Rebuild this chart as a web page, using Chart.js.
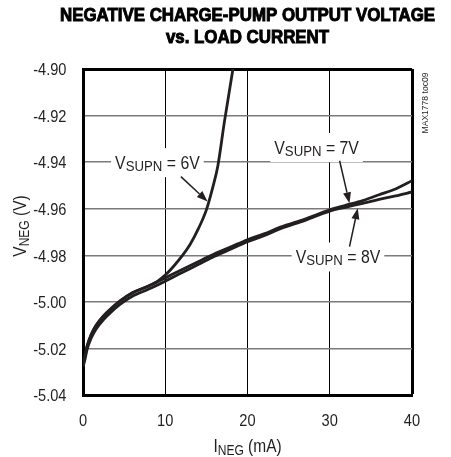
<!DOCTYPE html>
<html>
<head>
<meta charset="utf-8">
<script src="https://cdn.jsdelivr.net/npm/chart.js@4.4.0/dist/chart.umd.min.js"></script>
<style>
  body { margin: 0; background: #fff; }
  canvas { display: block; }
</style>
</head>
<body>
<canvas id="myChart" width="451" height="457"></canvas>
<script>
// load current (mA) and output voltage (V)
var current78 = [0, 0.2, 0.5, 1, 1.6, 2.5, 3.5, 4.5, 6, 8, 10, 12, 14, 16, 18, 20, 22, 24, 27, 30, 32, 34, 36, 38, 40];
var vneg7 = [-5.0265, -5.024, -5.019, -5.014, -5.010, -5.006, -5.0026, -4.9996, -4.9961, -4.9931, -4.9897, -4.9862, -4.9828, -4.9793, -4.9763, -4.9733, -4.9708, -4.9679, -4.9644, -4.9605, -4.9585, -4.9565, -4.954, -4.9515, -4.948];
var vneg8 = [-5.0278, -5.0254, -5.0204, -5.0155, -5.0116, -5.0076, -5.0041, -5.0011, -4.9976, -4.9945, -4.9911, -4.9875, -4.984, -4.9804, -4.9773, -4.9742, -4.9716, -4.9686, -4.965, -4.961, -4.9593, -4.9577, -4.956, -4.9545, -4.9528];
var current6 = [0, 0.2, 0.5, 1, 1.6, 2.5, 3.5, 4.5, 6, 8, 9, 10, 11, 12, 13, 14, 15, 15.8, 16.4, 17.2, 18.3];
var vneg6 = [-5.0265, -5.024, -5.019, -5.014, -5.010, -5.006, -5.0027, -4.9997, -4.9962, -4.9932, -4.9913, -4.9885, -4.9848, -4.9805, -4.9755, -4.9688, -4.9605, -4.9505, -4.9415, -4.9225, -4.8985];

var xTicks = [0, 10, 20, 30, 40];
var yTicks = [-5.04, -5.02, -5.00, -4.98, -4.96, -4.94, -4.92, -4.90];

var titleLines = ['NEGATIVE CHARGE-PUMP OUTPUT VOLTAGE', 'vs. LOAD CURRENT'];

// curve labels: [V, sub, rest], centre (mA, V), arrow from -> to
var labels = [
    { parts: ['V', 'SUPN', ' = 6V'], x: 9.05, y: -4.94, arrow: [11.9, -4.9462, 15.15, -4.9569] },
    { parts: ['V', 'SUPN', ' = 7V'], x: 28.4, y: -4.9335, arrow: [31.2, -4.9394, 32.4, -4.9577] },
    { parts: ['V', 'SUPN', ' = 8V'], x: 31.0, y: -4.9805, arrow: [32.4, -4.9763, 33.4, -4.9598] }
];

var FONT = "'Liberation Sans', Arial, sans-serif";
var INK = '#231f20';
var SQ = 0.86; // horizontal squeeze to mimic a condensed face

function pts(xs, ys) {
    var out = [];
    for (var i in xs) {
        out.push({ x: xs[i], y: ys[i] });
    }
    return out;
}

// condensed text: draws at (x, y) with given alignment
function sqText(ctx, text, x, y, font, align, sq, stroke) {
    ctx.save();
    ctx.font = font;
    ctx.textBaseline = 'alphabetic';
    ctx.textAlign = 'left';
    var w = ctx.measureText(text).width * sq;
    var x0 = align === 'center' ? x - w / 2 : (align === 'right' ? x - w : x);
    ctx.translate(x0, y);
    ctx.scale(sq, 1);
    ctx.fillText(text, 0, 0);
    if (stroke) {
        ctx.lineWidth = stroke;
        ctx.strokeStyle = ctx.fillStyle;
        ctx.strokeText(text, 0, 0);
    }
    ctx.restore();
    return w;
}

function subWidth(ctx, parts, big, small, sq) {
    ctx.font = big + 'px ' + FONT;
    var w = ctx.measureText(parts[0] + parts[2]).width;
    ctx.font = small + 'px ' + FONT;
    w += ctx.measureText(parts[1]).width;
    return w * sq;
}

function drawSub(ctx, parts, cx, baseline, big, small, drop, sq) {
    var w = subWidth(ctx, parts, big, small, sq);
    var x = cx - w / 2;
    x += sqText(ctx, parts[0], x, baseline, big + 'px ' + FONT, 'left', sq);
    x += sqText(ctx, parts[1], x, baseline + drop, small + 'px ' + FONT, 'left', sq);
    sqText(ctx, parts[2], x, baseline, big + 'px ' + FONT, 'left', sq);
    return w;
}

function arrow(ctx, x1, y1, x2, y2) {
    var a = Math.atan2(y2 - y1, x2 - x1);
    var len = 11, half = 4;
    ctx.beginPath();
    ctx.moveTo(x1, y1);
    ctx.lineTo(x2 - Math.cos(a) * len, y2 - Math.sin(a) * len);
    ctx.lineWidth = 1.5;
    ctx.strokeStyle = INK;
    ctx.stroke();
    ctx.beginPath();
    ctx.moveTo(x2, y2);
    ctx.lineTo(x2 - Math.cos(a) * len - Math.sin(a) * half, y2 - Math.sin(a) * len + Math.cos(a) * half);
    ctx.lineTo(x2 - Math.cos(a) * len + Math.sin(a) * half, y2 - Math.sin(a) * len - Math.cos(a) * half);
    ctx.closePath();
    ctx.fillStyle = INK;
    ctx.fill();
}

var decor = {
    id: 'decor',
    afterDatasetsDraw: function(chart) {
        var ctx = chart.ctx;
        var xs = chart.scales.x, ys = chart.scales.y;
        ctx.save();
        labels.forEach(function(l) {
            var cx = xs.getPixelForValue(l.x);
            var cy = ys.getPixelForValue(l.y);
            var w = subWidth(ctx, l.parts, 18, 15, 0.88);
            ctx.fillStyle = '#fff';
            ctx.fillRect(cx - w / 2 - 4, cy - 14, w + 8, 29);
            ctx.fillStyle = INK;
            drawSub(ctx, l.parts, cx, cy + 6.5, 18, 15, 2, 0.88);
            arrow(ctx, xs.getPixelForValue(l.arrow[0]), ys.getPixelForValue(l.arrow[1]),
                       xs.getPixelForValue(l.arrow[2]), ys.getPixelForValue(l.arrow[3]));
        });
        ctx.restore();
    },
    afterDraw: function(chart) {
        var ctx = chart.ctx;
        var area = chart.chartArea;
        var xs = chart.scales.x, ys = chart.scales.y;
        var mid = (area.left + area.right) / 2;
        ctx.save();

        // title, heavy condensed, squeezed to the plotted width
        ctx.fillStyle = '#000';
        ctx.font = 'bold 19px ' + FONT;
        var tsq = 376 / (ctx.measureText(titleLines[0]).width + 1);
        sqText(ctx, titleLines[0], mid, 20.7, 'bold 19px ' + FONT, 'center', tsq, 1);
        sqText(ctx, titleLines[1], mid, 43.3, 'bold 19px ' + FONT, 'center', tsq, 1);

        ctx.fillStyle = INK;
        // tick labels
        xTicks.forEach(function(v) {
            sqText(ctx, String(v), xs.getPixelForValue(v), area.bottom + 30.5, '17px ' + FONT, 'center', SQ);
        });
        yTicks.forEach(function(v) {
            sqText(ctx, v.toFixed(2), area.left - 16.5, ys.getPixelForValue(v) + 6.3, '17px ' + FONT, 'right', SQ);
        });

        // x axis title
        drawSub(ctx, ['I', 'NEG', ' (mA)'], mid, 451.5, 18, 14, 3, SQ);
        // y axis title
        ctx.save();
        ctx.translate(25.5, (area.top + area.bottom) / 2 - 6);
        ctx.rotate(-Math.PI / 2);
        drawSub(ctx, ['V', 'NEG', ' (V)'], 0, 0, 18, 14, 3, SQ);
        ctx.restore();

        // figure tag on the right edge
        ctx.save();
        ctx.translate(area.right + 15.5, area.top + 34);
        ctx.rotate(-Math.PI / 2);
        sqText(ctx, 'MAX1778 toc09', 0, 0, '9.5px ' + FONT, 'center', 0.9);
        ctx.restore();

        ctx.restore();
    }
};

var lineStyle = {
    borderColor: INK,
    borderWidth: 2.8,
    pointRadius: 0,
    fill: false,
    cubicInterpolationMode: 'monotone'
};

var chartdata = {
    datasets: [
        Object.assign({ label: 'VSUPN = 6V', data: pts(current6, vneg6) }, lineStyle),
        Object.assign({ label: 'VSUPN = 7V', data: pts(current78, vneg7) }, lineStyle),
        Object.assign({ label: 'VSUPN = 8V', data: pts(current78, vneg8) }, lineStyle)
    ]
};

var ctx = document.getElementById('myChart');

var LineGraph = new Chart(ctx, {
    type: 'line',
    data: chartdata,
    options: {
        responsive: false,
        animation: false,
        events: [],
        layout: { padding: { top: 69, right: 39, left: 0, bottom: 0 } },
        plugins: {
            legend: { display: false },
            title: { display: false },
            tooltip: { enabled: false }
        },
        scales: {
            x: {
                type: 'linear',
                min: 0,
                max: 40,
                afterBuildTicks: function(scale) {
                    scale.ticks = xTicks.map(function(v) { return { value: v }; });
                },
                afterFit: function(scale) { scale.height = 62; },
                grid: {
                    drawTicks: false,
                    color: '#000',
                    lineWidth: function(c) { return c.tick && c.tick.value === 40 ? 3 : 1; }
                },
                border: { display: true, color: '#000', width: 3 },
                ticks: { display: false }
            },
            y: {
                type: 'linear',
                min: -5.04,
                max: -4.90,
                afterBuildTicks: function(scale) {
                    scale.ticks = yTicks.map(function(v) { return { value: v }; });
                },
                afterFit: function(scale) { scale.width = 83; },
                grid: {
                    drawTicks: false,
                    color: function(c) { return c.tick && c.tick.value === -4.90 ? '#000' : '#7a7a7a'; },
                    lineWidth: function(c) { return c.tick && c.tick.value === -4.90 ? 3 : 1.5; }
                },
                border: { display: true, color: '#000', width: 3 },
                ticks: { display: false }
            }
        }
    },
    plugins: [decor]
});
</script>
</body>
</html>
